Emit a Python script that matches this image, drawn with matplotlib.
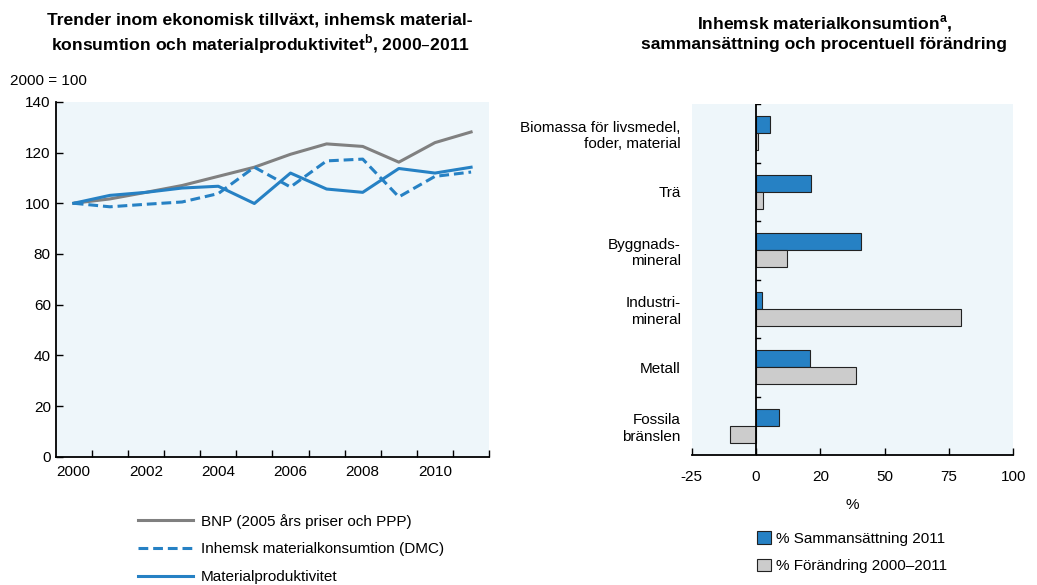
import matplotlib
matplotlib.use("Agg")
import matplotlib.pyplot as plt
import numpy as np
from matplotlib.lines import Line2D
from matplotlib.patches import Patch

plt.rcParams["font.family"] = ["Liberation Sans", "DejaVu Sans"]
plt.rcParams["font.size"] = 11

# left panel: index 2000 = 100
years = list(range(2000, 2012))
bnp = [100, 101.7, 104.3, 107, 110.6, 114.2, 119.3, 123.4, 122.4, 116.2, 123.9, 128.1]
dmc = [100, 98.6, 99.6, 100.5, 103.8, 114.2, 106.4, 116.7, 117.4, 102.5, 110.6, 112.3]
prod = [100, 103.1, 104.3, 106, 106.7, 99.9, 111.9, 105.6, 104.3, 113.7, 111.9, 114.2]
line_labels = [
    "BNP (2005 års priser och PPP)",
    "Inhemsk materialkonsumtion (DMC)",
    "Materialproduktivitet",
]

# right panel: composition and change
categories = [
    "Biomassa för livsmedel,\nfoder, material",
    "Trä",
    "Byggnads-\nmineral",
    "Industri-\nmineral",
    "Metall",
    "Fossila\nbränslen",
]
share_2011 = [5.4, 21.4, 41.0, 2.3, 21.2, 9.0]
change = [0.8, 2.6, 12.1, 79.7, 38.8, -10.1]
bar_labels = ["% Sammansättning 2011", "% Förändring 2000–2011"]
xtick_vals = [-25, 0, 25, 50, 75, 100]
xtick_text = ["-25", "0", "20", "50", "75", "100"]

blue = "#2681c4"
gray = "#808080"
light_gray = "#cccccc"
bg = "#eef6fa"
fs = 11

fig = plt.figure(figsize=(10.37, 5.85), dpi=100)

# ---- left chart
ax1 = fig.add_axes([0.0537, 0.219, 0.418, 0.607])
ax1.set_facecolor(bg)
ax1.plot(years, bnp, color=gray, lw=2.2)
ax1.plot(years, dmc, color=blue, lw=2.2, ls=(0, (3.2, 1.6)))
ax1.plot(years, prod, color=blue, lw=2.2)
ax1.set_xlim(1999.5, 2011.5)
ax1.set_ylim(0, 140)
ax1.set_yticks(range(0, 141, 20))
ax1.set_xticks(range(2000, 2011, 2))
ax1.set_xticks(np.arange(2000.5, 2011.6, 1), minor=True)
ax1.tick_params(axis="x", which="major", length=0, labelsize=fs, pad=6)
ax1.tick_params(axis="x", which="minor", direction="in", length=5, width=1)
ax1.tick_params(axis="y", direction="in", length=5, width=1, labelsize=fs)
for s in ["top", "right"]:
    ax1.spines[s].set_visible(False)
for s in ["left", "bottom"]:
    ax1.spines[s].set_linewidth(1.3)
fig.text(0.251, 0.978, "Trender inom ekonomisk tillväxt, inhemsk material-\n"
         "konsumtion och materialproduktivitet$^{\\mathregular{b}}$, 2000–2011",
         ha="center", va="top", fontsize=12.6, fontweight="bold", linespacing=1.25)
fig.text(0.01, 0.862, "2000 = 100", fontsize=fs, va="center")

handles = [
    Line2D([], [], color=gray, lw=2.2),
    Line2D([], [], color=blue, lw=2.2, ls=(0, (3.2, 1.6))),
    Line2D([], [], color=blue, lw=2.2),
]
fig.legend(handles, line_labels, loc="upper left", bbox_to_anchor=(0.126, 0.135),
           frameon=False, fontsize=fs, handlelength=3.6, handletextpad=0.5,
           labelspacing=0.9, borderpad=0)

# ---- right chart
ax2 = fig.add_axes([0.667, 0.222, 0.310, 0.600])
ax2.set_facecolor(bg)
y = np.arange(len(categories))
h = 0.29
ax2.barh(y - h / 2, share_2011, height=h, color=blue, edgecolor="#222222", lw=0.8)
ax2.barh(y + h / 2, change, height=h, color=light_gray, edgecolor="#222222", lw=0.8)
ax2.set_ylim(len(categories) - 0.5, -0.5)
ax2.set_xlim(-25, 100)
ax2.set_yticks(y)
ax2.set_yticklabels(categories, fontsize=fs)
ax2.tick_params(axis="y", which="major", length=0, pad=8)
ax2.set_xticks(xtick_vals)
ax2.set_xticklabels(xtick_text)
ax2.tick_params(axis="x", direction="in", length=5, width=1, labelsize=fs, pad=11)
for s in ["top", "right", "left"]:
    ax2.spines[s].set_visible(False)
ax2.spines["bottom"].set_linewidth(1.3)
ax2.axvline(0, color="black", lw=1.3)
for yb in np.arange(-0.5, len(categories) - 0.5, 1):
    ax2.plot([0, 1.6], [yb, yb], color="black", lw=1)
ax2.set_xlabel("%", fontsize=fs, labelpad=10)
fig.text(0.795, 0.978, "Inhemsk materialkonsumtion$^{\\mathregular{a}}$,\n"
         "sammansättning och procentuell förändring",
         ha="center", va="top", fontsize=12.6, fontweight="bold", linespacing=1.25)

bhandles = [
    Patch(facecolor=blue, edgecolor="#222222", lw=0.8),
    Patch(facecolor=light_gray, edgecolor="#222222", lw=0.8),
]
fig.legend(bhandles, bar_labels, loc="upper left", bbox_to_anchor=(0.723, 0.105),
           frameon=False, fontsize=fs, handlelength=0.9, handleheight=0.9,
           handletextpad=0.3, labelspacing=0.85, borderpad=0)

fig.savefig("out.png", dpi=100)
